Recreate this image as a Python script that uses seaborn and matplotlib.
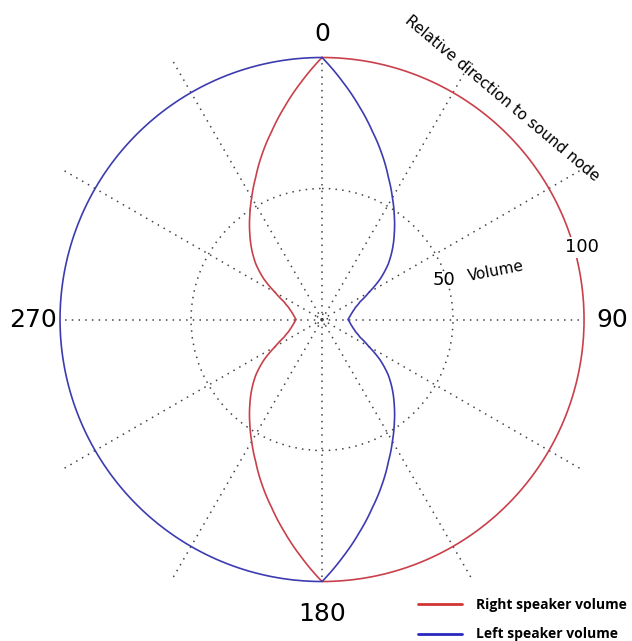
import numpy as np
import pandas as pd
import matplotlib
matplotlib.use("Agg")
import matplotlib.pyplot as plt
from matplotlib.lines import Line2D
import seaborn as sns

# Relative direction to the sound node (degrees, clockwise from north)
angles = list(range(0, 365, 5))

# Volume, one value per angle above
right_volume = [100] * 36 + [
    100, 91.0, 82.4, 74.3, 67.0, 59.9, 53.7, 48.1, 42.9, 38.0,
    33.0, 27.2, 20.6, 16.0, 13.6, 12.2, 11.2, 10.5, 9.9,
    10.5, 11.2, 12.2, 13.6, 16.0, 20.6, 27.2, 33.0, 38.0, 42.9,
    48.1, 53.7, 59.9, 67.0, 74.3, 82.4, 91.0, 100,
]
left_volume = [
    100, 91.0, 82.4, 74.3, 67.0, 59.9, 53.7, 48.1, 42.9, 38.0,
    33.0, 27.2, 20.6, 16.0, 13.6, 12.2, 11.2, 10.5, 9.9,
    10.5, 11.2, 12.2, 13.6, 16.0, 20.6, 27.2, 33.0, 38.0, 42.9,
    48.1, 53.7, 59.9, 67.0, 74.3, 82.4, 91.0, 100,
] + [100] * 36

series_names = ["Right speaker volume", "Left speaker volume"]
series_colors = ["#c9404a", "#3c3cb0"]

df = pd.concat([
    pd.DataFrame({"theta": np.deg2rad(angles), "volume": right_volume,
                  "speaker": series_names[0]}),
    pd.DataFrame({"theta": np.deg2rad(angles), "volume": left_volume,
                  "speaker": series_names[1]}),
])

sns.set_style("white")
plt.rcParams["font.family"] = ["DejaVu Sans"]
plt.rcParams["text.color"] = "black"

fig = plt.figure(figsize=(6.32, 6.41), dpi=100)
ax = fig.add_axes([0.0328, 0.0315, 0.9535, 0.9401], projection="polar")
ax.set_theta_zero_location("N")
ax.set_theta_direction(-1)
ax.set_ylim(0, 115)

grid_style = dict(color="#444444", linestyle=(0, (1, 3.4)), linewidth=1.1)

# spokes every 30 deg; the cardinal ones stop at the 100 ring
ax.set_xticks(np.deg2rad([30, 60, 120, 150, 210, 240, 300, 330]))
ax.set_xticklabels([])
ax.set_yticks([2, 50])
ax.set_yticklabels([])
ax.grid(True, **grid_style)
ax.vlines(np.deg2rad([0, 90, 180, 270]), 0, 100, colors=grid_style["color"],
          linestyles=[grid_style["linestyle"]], linewidth=1.1, zorder=1)
ax.spines["polar"].set_visible(False)

sns.lineplot(data=df, x="theta", y="volume", hue="speaker",
             palette=dict(zip(series_names, series_colors)),
             linewidth=1.2, legend=False, ax=ax, zorder=3)
# draw segments as arcs in polar space instead of straight chords
for line in ax.lines:
    line.get_path()._interpolation_steps = 30
ax.set_xlabel("")
ax.set_ylabel("")

# direction labels
for deg, r, lab in [(0, 108.8, "0"), (90, 110.7, "90"),
                    (180, 112.4, "180"), (270, 110.2, "270")]:
    ax.text(np.deg2rad(deg), r, lab, ha="center", va="center", fontsize=18,
            bbox=dict(facecolor="white", edgecolor="none", pad=1), zorder=4)

# radial labels
ax.text(np.deg2rad(72), 49, "50", ha="center", va="center", fontsize=13, zorder=4)
ax.text(np.deg2rad(74.5), 103, "100", ha="center", va="center", fontsize=13,
        bbox=dict(facecolor="white", edgecolor="none", pad=1), zorder=4)
ax.text(np.deg2rad(74.5), 69, "Volume", ha="center", va="center",
        fontsize=11, rotation=11, zorder=4)

fig.text(502.5 / 632, 1 - 98.5 / 641, "Relative direction to sound node",
         ha="center", va="center", rotation=-40, fontsize=11,
         rotation_mode="anchor")

handles = [Line2D([], [], color=c, lw=2) for c in ["#d03535", "#2828c0"]]
fig.legend(handles, series_names, loc="center left",
           bbox_to_anchor=(405 / 632, 1 - 619.5 / 641), frameon=False,
           handlelength=3.2, handletextpad=1.0, labelspacing=1.15,
           prop=dict(family="Open Sans", weight="bold", size=10))

fig.savefig("out.png", dpi=100)
